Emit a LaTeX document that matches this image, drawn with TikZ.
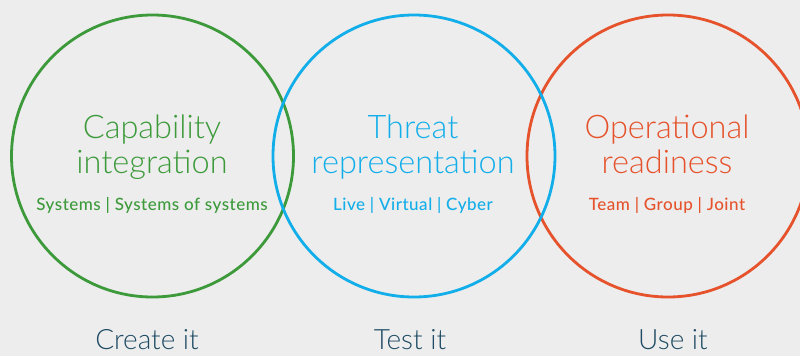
\documentclass[tikz,border=0pt]{standalone}
\usepackage{fontspec}
\IfFontExistsTF{Lato Light}{\newfontfamily\lightfont{Lato Light}}{\newfontfamily\lightfont{Fira Sans Light}}
\IfFontExistsTF{Lato Medium}{\newfontfamily\regfont[LetterSpace=3]{Lato Medium}}{\newfontfamily\regfont[LetterSpace=3]{Lato}}
\definecolor{bg}{HTML}{EDEDED}
\definecolor{cgreen}{HTML}{3C9A3A}
\definecolor{cblue}{HTML}{12AEEA}
\definecolor{cred}{HTML}{E5522B}
\definecolor{cdark}{HTML}{1E4A63}
\begin{document}
\begin{tikzpicture}[x=1pt,y=-1pt,
  ring/.style={line width=2.8pt},
  title/.style={anchor=base,inner sep=0pt,font=\lightfont\fontsize{32.5}{35}\selectfont},
  sub/.style={anchor=base,inner sep=0pt,font=\regfont\fontsize{17}{19}\selectfont},
  bottom/.style={anchor=base,inner sep=0pt,text=cdark,font=\lightfont\fontsize{28}{31}\selectfont}]
\fill[bg] (0,0) rectangle (800,356);
\useasboundingbox (0,0) rectangle (800,356);
\draw[ring,cgreen] (152.5,156) circle[radius=141];
\draw[ring,cred] (668,156) circle[radius=141];
\draw[ring,cblue] (414,156) circle[radius=141];
% titles
\node[title,text=cgreen] (t1a) at (152,138) {Capability};
\node[title,text=cgreen] (t1b) at (152,173) {integration};
\node[sub,text=cgreen] (s1) at (152,210) {Systems | Systems of systems};
\node[title,text=cblue] (t2a) at (413,138) {Threat};
\node[title,text=cblue] (t2b) at (413,173) {representation};
\node[sub,text=cblue] (s2) at (413,210) {Live | Virtual | Cyber};
\node[title,text=cred] (t3a) at (667,138) {Operational};
\node[title,text=cred] (t3b) at (667,173) {readiness};
\node[sub,text=cred] (s3) at (667,210) {Team | Group | Joint};
\node[bottom] (b1) at (147,349) {Create it};
\node[bottom] (b2) at (410,349) {Test it};
\node[bottom] (b3) at (673,349) {Use it};
\end{tikzpicture}
\end{document}
